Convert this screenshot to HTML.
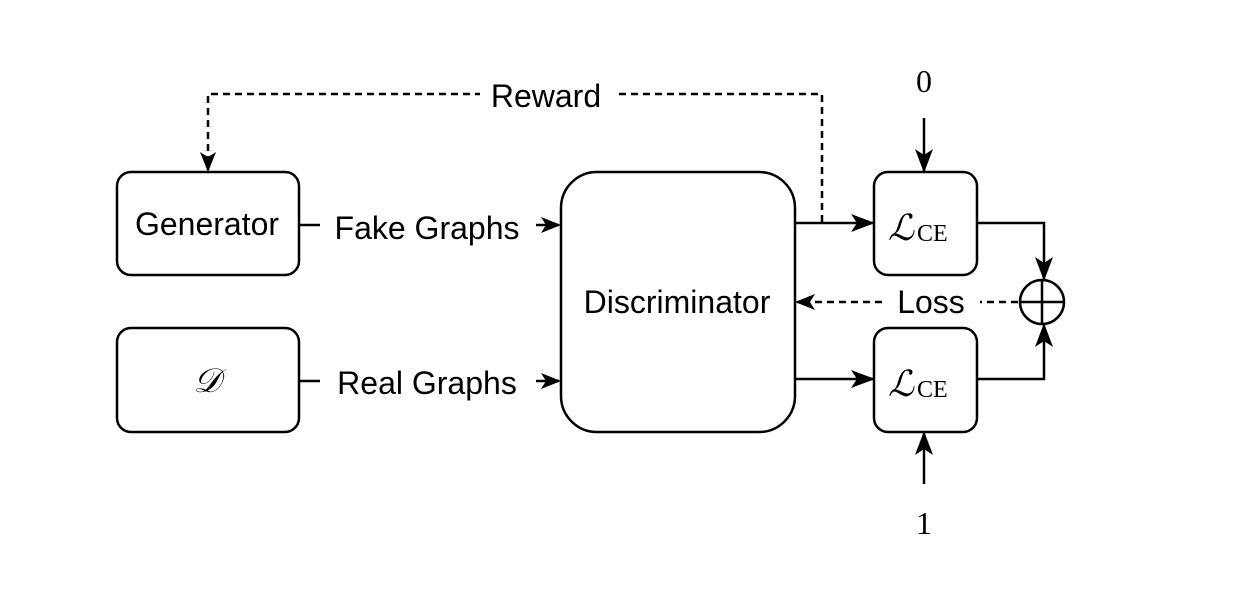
<!DOCTYPE html>
<html><head><style>body{margin:0;background:#fff}</style></head><body>
<svg width="1238" height="603" xmlns="http://www.w3.org/2000/svg" font-family="Liberation Sans, sans-serif">
<defs>
<marker id="a" markerWidth="24" markerHeight="18" refX="22" refY="9" orient="auto" markerUnits="userSpaceOnUse"><path d="M0,0 L24,9 L0,18 L6,9 Z" fill="#000"/></marker>
<marker id="b" markerWidth="20" markerHeight="16" refX="18" refY="8" orient="auto" markerUnits="userSpaceOnUse"><path d="M0,0 L20,8 L0,16 L5,8 Z" fill="#000"/></marker>
</defs>
<g fill="none" stroke="#000" stroke-width="2.5">
<rect x="117" y="172" width="182" height="103" rx="14"/>
<rect x="117" y="328" width="182" height="104" rx="14"/>
<rect x="561" y="172" width="234" height="260" rx="36"/>
<rect x="874" y="172" width="103" height="103" rx="14"/>
<rect x="874" y="328" width="103" height="104" rx="14"/>
<circle cx="1042" cy="302" r="22"/>
<line x1="1020" y1="302" x2="1064" y2="302"/>
<line x1="1042" y1="280" x2="1042" y2="324"/>
<path d="M822,222 V94 H208 V170" stroke-dasharray="7,5" marker-end="url(#b)"/>
<line x1="299" y1="225" x2="320" y2="225"/>
<line x1="536" y1="225" x2="559" y2="225" marker-end="url(#b)"/>
<line x1="299" y1="381" x2="320" y2="381"/>
<line x1="536" y1="381" x2="559" y2="381" marker-end="url(#b)"/>
<line x1="795" y1="223" x2="873" y2="223" marker-end="url(#a)"/>
<line x1="795" y1="379" x2="873" y2="379" marker-end="url(#a)"/>
<path d="M977,223 H1044 V279" marker-end="url(#a)"/>
<path d="M977,379 H1044 V325" marker-end="url(#a)"/>
<line x1="1018" y1="302" x2="980" y2="302" stroke-dasharray="7,5"/>
<line x1="882" y1="302" x2="797" y2="302" stroke-dasharray="7,5" marker-end="url(#b)"/>
<line x1="924" y1="118" x2="924" y2="171" marker-end="url(#a)"/>
<line x1="924" y1="484" x2="924" y2="433" marker-end="url(#a)"/>
</g>
<rect x="480" y="78" width="134" height="32" fill="#fff"/>
<g font-size="32" fill="#000" text-anchor="middle">
<text x="546" y="107">Reward</text>
<text x="207" y="235">Generator</text>
<text x="427" y="239">Fake Graphs</text>
<text x="427" y="394">Real Graphs</text>
<text x="677" y="313">Discriminator</text>
<text x="931" y="313">Loss</text>
</g>
<g font-family="Liberation Serif, serif" fill="#000">
<text x="924" y="92" font-size="32" text-anchor="middle">0</text>
<text x="924" y="534" font-size="32" text-anchor="middle">1</text>
<text x="207" y="392" font-size="34" font-style="italic" text-anchor="middle">𝒟</text>
<text x="888" y="240" font-size="36" font-style="italic">ℒ</text><text x="917" y="241" font-size="24">CE</text>
<text x="888" y="396" font-size="36" font-style="italic">ℒ</text><text x="917" y="397" font-size="24">CE</text>
</g>
</svg>
</body></html>
